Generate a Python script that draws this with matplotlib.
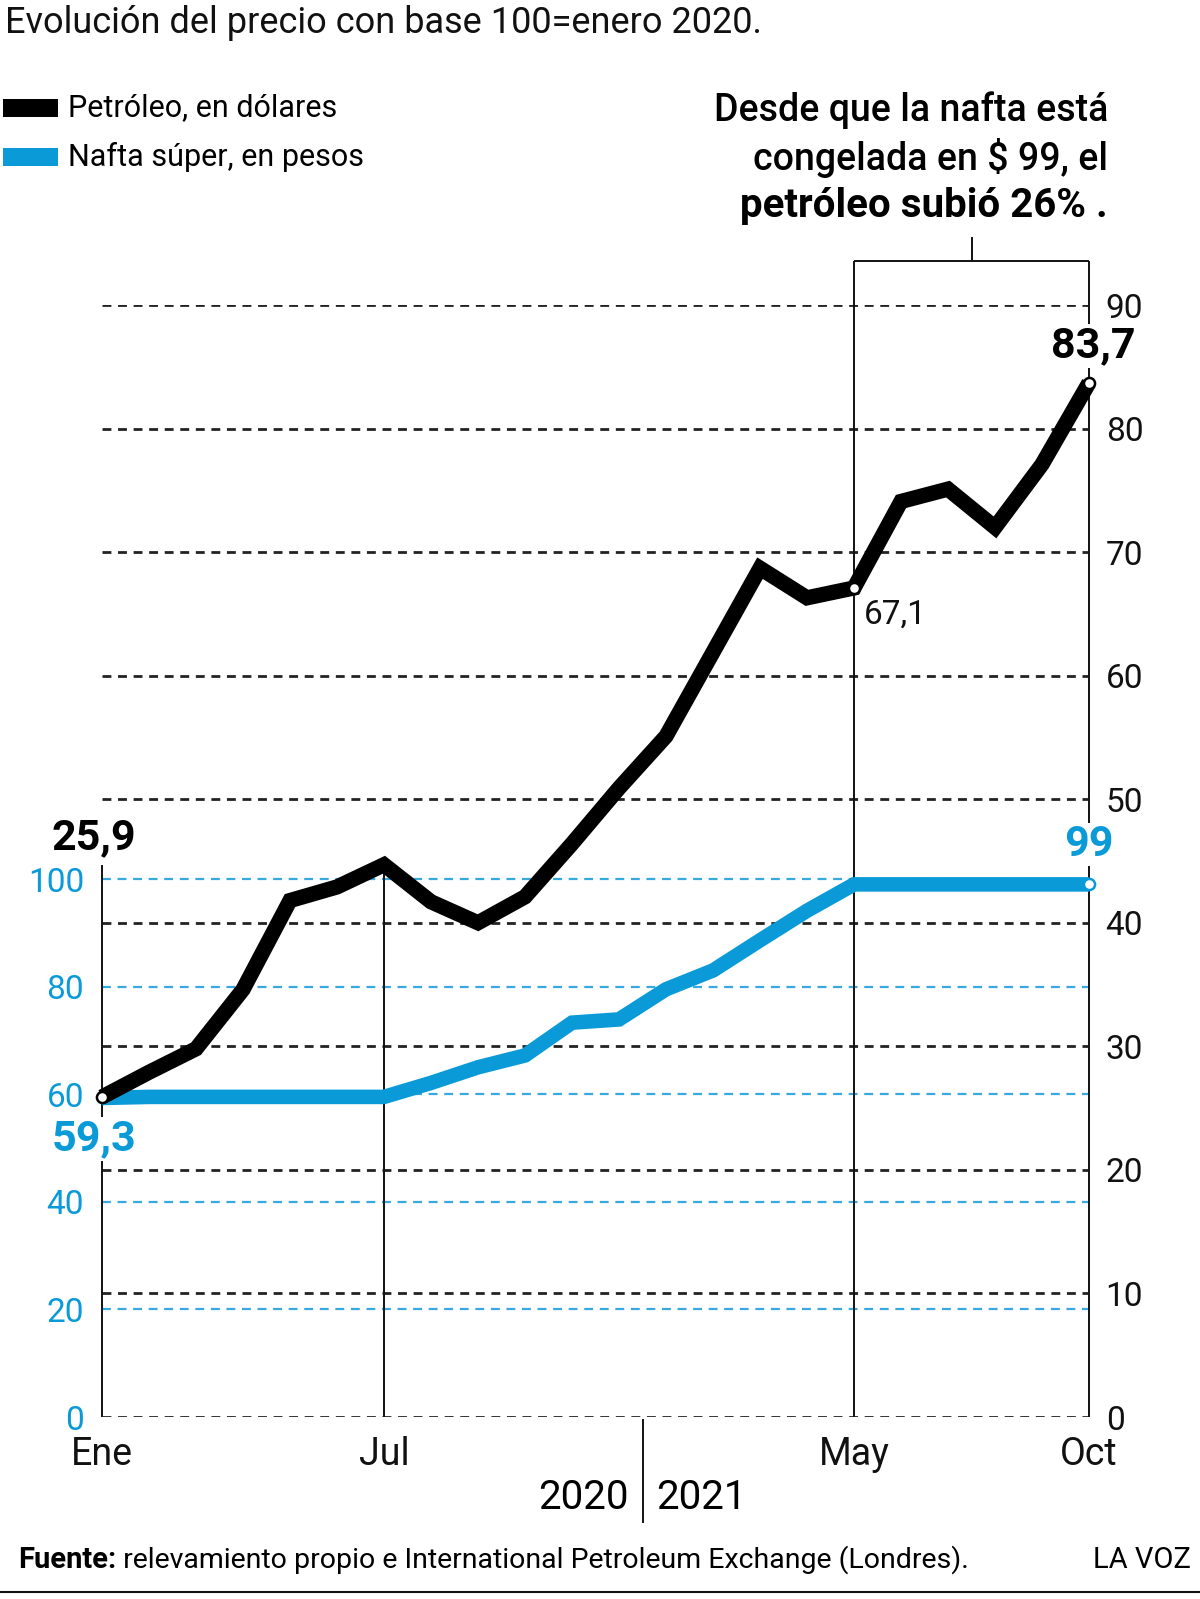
import matplotlib.pyplot as plt
from matplotlib.patches import Rectangle
from matplotlib.lines import Line2D

plt.rcParams['font.family'] = ['Roboto', 'DejaVu Sans']

# monthly data, Jan 2020 (0) .. Oct 2021 (21)
months = list(range(22))
petroleo = [25.9, 27.9, 29.8, 34.6, 41.8, 42.9, 44.7, 41.7, 40.0, 42.1, 46.4,
            50.9, 55.1, 61.9, 68.7, 66.3, 67.1, 74.1, 75.1, 72.0, 77.1, 83.7]
nafta = [59.3, 59.5, 59.5, 59.5, 59.5, 59.5, 59.5, 62.1, 65.0, 67.2, 73.3,
         73.9, 79.5, 83.0, 88.6, 94.1, 99, 99, 99, 99, 99, 99]
x_ticks = [0, 6, 16, 21]
x_labels = ['Ene', 'Jul', 'May', 'Oct']
right_ticks = list(range(0, 100, 10))
left_ticks = list(range(0, 101, 20))

BLACK = '#111111'
BLUE = '#0a9ad8'
W, H = 1200, 1599


def fx(px):
    return px / W


def fy(py):
    return 1 - py / H


fig = plt.figure(figsize=(12, 15.99), dpi=100)
ax = fig.add_axes([fx(102), fy(1417), 987 / W, 1112 / H])
ax_n = ax.twinx()

ax.set_xlim(0, 21)
ax.set_ylim(0, 90)
ax_n.set_ylim(0, 100 * 1112 / 538)
for a in (ax, ax_n):
    for s in a.spines.values():
        s.set_visible(False)
    a.patch.set_visible(False)

# axes ticks
ax.yaxis.tick_right()
ax.set_yticks(right_ticks)
ax.tick_params(axis='y', length=0, labelsize=24, pad=12, labelcolor=BLACK)
ax_n.yaxis.tick_left()
ax_n.set_yticks(left_ticks)
ax_n.tick_params(axis='y', length=0, labelsize=24, pad=13, labelcolor=BLUE)
ax.set_xticks(x_ticks, x_labels)
ax.tick_params(axis='x', length=0, labelsize=27, pad=14, labelcolor=BLACK)

# grid lines
ax.hlines(right_ticks, 0, 21, colors='#222222', lw=2.0,
          linestyles=(0, (3.2, 2.4)), zorder=1)
ax.hlines(left_ticks[1:], 0, 21, colors='#36a9e0', lw=1.6,
          linestyles=(0, (4.0, 3.0)), transform=ax_n.transData, zorder=1)

# vertical reference lines
ax.vlines(0, 0, 44.7, colors=BLACK, lw=1.4, zorder=2, clip_on=False)
ax.vlines(6, 0, petroleo[6], colors=BLACK, lw=1.4, zorder=2, clip_on=False)
ax.vlines([16, 21], 0, 93.6, colors=BLACK, lw=1.4, zorder=2, clip_on=False)
ax.hlines(93.6, 16, 21, colors=BLACK, lw=1.4, zorder=2, clip_on=False)
ax.vlines(18.5, 93.6, 95.5, colors=BLACK, lw=1.4, zorder=2, clip_on=False)

# series
ax.plot(months, nafta, color=BLUE, lw=10.5, solid_joinstyle='miter',
        solid_capstyle='butt', transform=ax_n.transData, zorder=3, clip_on=False)
ax.plot(months, petroleo, color='black', lw=11, solid_joinstyle='miter',
        solid_capstyle='butt', zorder=4, clip_on=False)
ax.plot([0, 16, 21], [petroleo[0], petroleo[16], petroleo[21]], 'o', ms=8,
        mfc='white', mec='black', mew=1.8, zorder=5, clip_on=False)
ax.plot([21], [nafta[21]], 'o', ms=8, mfc='white', mec=BLUE, mew=1.8,
        transform=ax_n.transData, zorder=5, clip_on=False)

# value labels
bg = dict(facecolor='white', edgecolor='none', pad=1)
ax.annotate('25,9', xy=(0, petroleo[0]), xytext=(-8, 259), textcoords='offset pixels',
            ha='center', va='center', fontsize=31, fontweight='bold', color='black', zorder=6)
ax.annotate('59,3', xy=(0, petroleo[0]), xytext=(-8, -42), textcoords='offset pixels',
            ha='center', va='center', fontsize=31, fontweight='bold', color=BLUE,
            bbox=bg, zorder=6)
ax.annotate('83,7', xy=(21, petroleo[21]), xytext=(4, 37), textcoords='offset pixels',
            ha='center', va='center', fontsize=31, fontweight='bold', color='black',
            bbox=bg, zorder=6)
ax.annotate('99', xy=(21, nafta[21]), xycoords=ax_n.transData, xytext=(0, 40),
            textcoords='offset pixels', ha='center', va='center', fontsize=31,
            fontweight='bold', color=BLUE, bbox=bg, zorder=6)
ax.annotate('67,1', xy=(16, petroleo[16]), xytext=(10, -27), textcoords='offset pixels',
            ha='left', va='center', fontsize=24, color=BLACK, zorder=6)

# years under the x axis
xt = ax.get_xaxis_transform()
ax.plot([11.5, 11.5], [-0.003, -0.094], color=BLACK, lw=1.4, transform=xt, clip_on=False)
ax.text(11.2, -0.072, '2020', transform=xt, ha='right', va='center', fontsize=29)
ax.text(11.8, -0.072, '2021', transform=xt, ha='left', va='center', fontsize=29)

# title and legend
fig.text(fx(5), fy(23), 'Evolución del precio con base 100=enero 2020.',
         ha='left', va='center', fontsize=26, color=BLACK)
fig.add_artist(Rectangle((fx(3), fy(117)), 55 / W, 18 / H, transform=fig.transFigure,
                         facecolor='black', edgecolor='none'))
fig.add_artist(Rectangle((fx(3), fy(166)), 55 / W, 18 / H, transform=fig.transFigure,
                         facecolor=BLUE, edgecolor='none'))
fig.text(fx(68), fy(108), 'Petróleo, en dólares', ha='left', va='center', fontsize=22)
fig.text(fx(68), fy(157), 'Nafta súper, en pesos', ha='left', va='center', fontsize=22)

# annotation
fig.text(fx(1108), fy(110), 'Desde que la nafta está', ha='right', va='center',
         fontsize=27, fontweight='medium')
fig.text(fx(1108), fy(158), 'congelada en $ 99, el', ha='right', va='center',
         fontsize=27, fontweight='medium')
fig.text(fx(1108), fy(206), 'petróleo subió 26% .', ha='right', va='center',
         fontsize=29, fontweight='bold')

# footer
src = fig.text(fx(18), fy(1560), 'Fuente:', ha='left', va='center', fontsize=21,
               fontweight='bold')
fig.text(fx(1191), fy(1560), 'LA VOZ', ha='right', va='center', fontsize=21)
ax.annotate(' relevamiento propio e International Petroleum Exchange (Londres).',
            xy=(1, 0.5), xycoords=src, ha='left', va='center', fontsize=20.5,
            annotation_clip=False)
fig.add_artist(Line2D([0, 1], [fy(1592), fy(1592)], transform=fig.transFigure,
                      color=BLACK, lw=1.5))

plt.savefig('out.png', dpi=100)
plt.close()
